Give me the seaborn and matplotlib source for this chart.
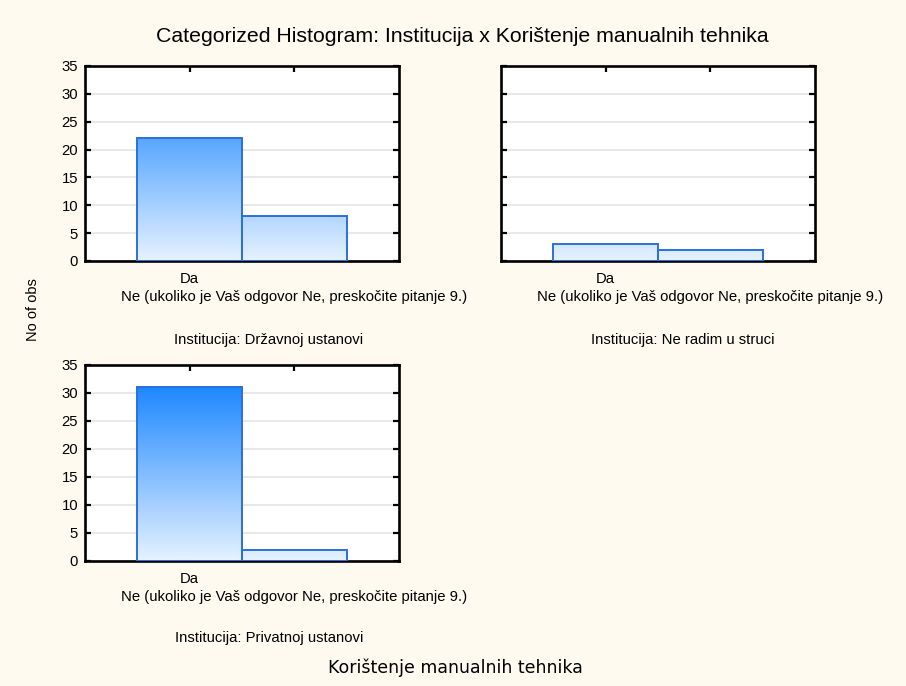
import numpy as np
import pandas as pd
import matplotlib
matplotlib.use("Agg")
import matplotlib.pyplot as plt
import seaborn as sns
from matplotlib.colors import LinearSegmentedColormap

# ---- data ----
categories = ["Da", "Ne (ukoliko je Vaš odgovor Ne, preskočite pitanje 9.)"]
panel_titles = ["Institucija: Državnoj ustanovi",
                "Institucija: Ne radim u struci",
                "Institucija: Privatnoj ustanovi"]
counts_drzavnoj = [22, 8]
counts_ne_radim = [3, 2]
counts_privatnoj = [31, 2]
yticks = [0, 5, 10, 15, 20, 25, 30, 35]
main_title = "Categorized Histogram: Institucija x Korištenje manualnih tehnika"
x_title = "Korištenje manualnih tehnika"
y_title = "No of obs"

sns.set_theme(style="white")
plt.rcParams["font.family"] = ["Liberation Sans", "DejaVu Sans"]
plt.rcParams["text.color"] = "black"
plt.rcParams["xtick.color"] = "black"
plt.rcParams["ytick.color"] = "black"
plt.rcParams["axes.labelcolor"] = "black"

W, H = 906, 686
BG = "#FEFAF0"
fig = plt.figure(figsize=(W / 100, H / 100), dpi=100, facecolor=BG)

cmap = LinearSegmentedColormap.from_list("grad", ["#E6F2FF", "#1E88FF"])
vmax = max(counts_drzavnoj + counts_ne_radim + counts_privatnoj)


def px_axes(left, top, right, bottom):
    return fig.add_axes([left / W, (H - bottom) / H, (right - left) / W, (bottom - top) / H])


def draw_panel(ax, counts, show_ylabels):
    df = pd.DataFrame({"cat": categories, "n": counts})
    sns.barplot(data=df, x="cat", y="n", ax=ax, width=1.0, color="#1E88FF",
                edgecolor="#2A6FE0", linewidth=1.4, zorder=3)
    for p in ax.patches:
        x0, y0 = p.get_x(), p.get_y()
        w, h = p.get_width(), p.get_height()
        grad = np.linspace(0, h, 256).reshape(-1, 1)
        im = ax.imshow(grad, cmap=cmap, vmin=0, vmax=vmax, origin="lower",
                       extent=(x0, x0 + w, y0, y0 + h), aspect="auto", zorder=2.5)
        im.set_clip_path(p)
        p.set_facecolor("none")
    ax.set_facecolor("white")
    ax.set_xlim(-1, 2)
    ax.set_ylim(0, 35)
    ax.set_yticks(yticks)
    ax.xaxis.remove_overlapping_locs = False
    ax.set_xticks([0, 1])
    ax.set_xticklabels([categories[0], ""], fontsize=10.7)
    ax.set_xticks([1], minor=True)
    ax.set_xticklabels([categories[1]], minor=True, fontsize=10.7)
    ax.set_xlabel("")
    ax.set_ylabel("")
    ax.grid(axis="y", color="#E2E2E2", linewidth=1.1, zorder=0)
    ax.set_axisbelow(True)
    for s in ax.spines.values():
        s.set_visible(True)
        s.set_color("black")
        s.set_linewidth(1.9)
    ax.tick_params(direction="in", top=True, right=True, bottom=True, left=True,
                   length=4, width=1.6, color="black", labelsize=10.7, pad=5)
    ax.tick_params(axis="x", which="major", pad=8)
    ax.tick_params(axis="x", which="minor", pad=21, length=0, top=False,
                   labelbottom=True, labelsize=10.7)
    if not show_ylabels:
        ax.tick_params(labelleft=False)


ax1 = px_axes(85, 66, 399, 261)
ax2 = px_axes(501, 66, 815, 261)
ax3 = px_axes(85, 365, 399, 561)

draw_panel(ax1, counts_drzavnoj, True)
draw_panel(ax2, counts_ne_radim, False)
draw_panel(ax3, counts_privatnoj, True)

fig.text(269 / W, 1 - 340 / H, panel_titles[0], ha="center", va="center", fontsize=10.7)
fig.text(683 / W, 1 - 340 / H, panel_titles[1], ha="center", va="center", fontsize=10.7)
fig.text(269 / W, 1 - 638 / H, panel_titles[2], ha="center", va="center", fontsize=10.7)

fig.text(462 / W, 1 - 37 / H, main_title, ha="center", va="center", fontsize=15.3)
fig.text(455 / W, 1 - 668 / H, x_title, ha="center", va="center", fontsize=12.5,
         family=["DejaVu Sans"])
fig.text(33 / W, 1 - 310 / H, y_title, ha="center", va="center", rotation=90, fontsize=10.5)

fig.savefig("out.png", dpi=100, facecolor=BG)
